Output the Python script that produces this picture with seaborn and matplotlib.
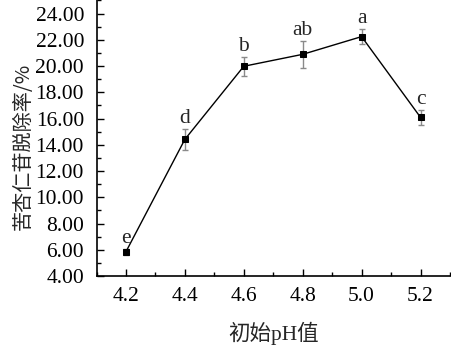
import matplotlib
matplotlib.use("Agg")
import matplotlib.pyplot as plt
import seaborn as sns
import pandas as pd
from matplotlib.ticker import MultipleLocator, FormatStrFormatter

ph = [4.2, 4.4, 4.6, 4.8, 5.0, 5.2]
removal = [5.85, 14.41, 19.98, 20.89, 22.24, 16.09]
err = [0.22, 0.80, 0.73, 1.05, 0.60, 0.58]
letters = ["e", "d", "b", "ab", "a", "c"]
xticks = [4.2, 4.4, 4.6, 4.8, 5.0, 5.2]
yticks = [4, 6, 8, 10, 12, 14, 16, 18, 20, 22, 24]

sns.set_theme(style="ticks")
plt.rcParams['font.family'] = ['Liberation Serif', 'Noto Sans CJK SC']

df = pd.DataFrame({"ph": ph, "removal": removal})

fig = plt.figure(figsize=(4.52, 3.46), dpi=100)
ax = fig.add_axes([0.2135, 0.2023, 0.782, 0.7977])

ax.errorbar(ph, removal, yerr=err, fmt='none', ecolor='#8a8a8a', elinewidth=1.0,
            capsize=2.5, capthick=1.0, zorder=2)
sns.lineplot(data=df, x="ph", y="removal", ax=ax, color='black', linewidth=1.0,
             marker='s', markersize=5, markeredgecolor='black', markerfacecolor='black', zorder=3)

for x, y, e, t in zip(ph, removal, err, letters):
    ax.annotate(t, xy=(x, y + e), xytext=(0, 4), textcoords='offset points',
                ha='center', va='baseline', fontsize=15.5, family='Liberation Serif')

ax.set_xlim(4.1, 5.3)
ax.set_ylim(4, 25.03)
ax.set_xticks(xticks)
ax.set_yticks(yticks)
ax.xaxis.set_minor_locator(MultipleLocator(0.1))
ax.yaxis.set_minor_locator(MultipleLocator(1))
ax.xaxis.set_major_formatter(FormatStrFormatter('%.1f'))
ax.yaxis.set_major_formatter(FormatStrFormatter('%.2f'))
ax.tick_params(which='major', direction='in', length=5, width=1, labelsize=15.5, color='black', labelcolor='black')
ax.tick_params(which='minor', direction='in', length=3, width=1, color='black')
ax.tick_params(axis='y', which='major', pad=9)
ax.tick_params(axis='x', which='major', pad=8)

for s in ['top', 'right']:
    ax.spines[s].set_visible(False)
for s in ['left', 'bottom']:
    ax.spines[s].set_color('black')
    ax.spines[s].set_linewidth(1.2)

ax.set_xlabel("初始pH值", fontsize=15.5, family=['Liberation Serif', 'Noto Sans CJK SC'], labelpad=11)
ax.set_ylabel("苦杏仁苷脱除率/%", fontsize=14.5, family=['Noto Sans CJK SC', 'Liberation Serif'])
ax.yaxis.set_label_coords(-0.2135 + 12.5 / 353.5, 0.47)
ax.set_facecolor('white')
fig.patch.set_facecolor('white')

fig.savefig("out.png", dpi=100)
